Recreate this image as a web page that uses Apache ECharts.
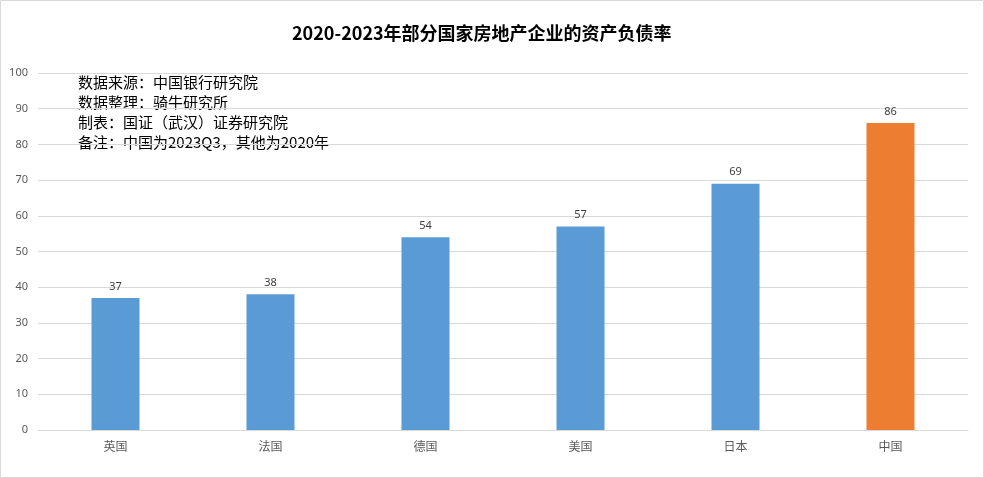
<!DOCTYPE html>
<html><head><meta charset="utf-8">
<script src="https://cdn.jsdelivr.net/npm/echarts@6/dist/echarts.min.js"></script>
<style>html,body{margin:0;padding:0;background:#fff}#c{width:984px;height:478px}</style>
</head><body><div id="c"></div>
<script>
const categories = ['英国','法国','德国','美国','日本','中国'];
const values = [37, 38, 54, 57, 69, 86];
const barColors = ['#5B9BD5','#5B9BD5','#5B9BD5','#5B9BD5','#5B9BD5','#ED7D31'];
const yTicks = {min: 0, max: 100, interval: 10};
const notes = ['数据来源：中国银行研究院','数据整理：骑牛研究所','制表：国证（武汉）证券研究院','备注：中国为2023Q3，其他为2020年'];

const chart = echarts.init(document.getElementById('c'), null, {renderer: 'canvas'});
chart.setOption({
  animation: false,
  backgroundColor: '#fff',
  title: {
    text: '2020-2023年部分国家房地产企业的资产负债率',
    left: 287, top: 19,
    textStyle: {fontFamily: 'Noto Sans CJK SC', fontSize: 18, fontWeight: 'bold', color: '#000'}
  },
  grid: {left: 38, right: 16, top: 73, bottom: 48},
  xAxis: {
    type: 'category', data: categories,
    axisLine: {lineStyle: {color: '#D9D9D9'}},
    axisTick: {show: false},
    axisLabel: {color: '#595959', fontSize: 12, fontFamily: 'Noto Sans CJK SC', margin: 10}
  },
  yAxis: {
    type: 'value', min: yTicks.min, max: yTicks.max, interval: yTicks.interval,
    axisLine: {show: false}, axisTick: {show: false},
    splitLine: {lineStyle: {color: '#D9D9D9'}},
    axisLabel: {color: '#595959', fontSize: 11, fontFamily: 'Noto Sans', margin: 10}
  },
  series: [{
    type: 'bar', data: values.map((v, i) => ({value: v, itemStyle: {color: barColors[i]}})),
    barWidth: 48,
    label: {show: true, position: 'top', color: '#404040', fontSize: 11, fontFamily: 'Noto Sans', distance: 6}
  }],
  graphic: [
    {type: 'rect', shape: {x: 0.5, y: 0.5, width: 983, height: 477}, style: {fill: 'none', stroke: '#D9D9D9', lineWidth: 1}, silent: true},
    {type: 'text', left: 78, top: 72, style: {
      text: notes.join('\n'), font: '15px "Noto Sans CJK SC"', lineHeight: 20, fill: '#000'
    }}
  ]
});
</script></body></html>
